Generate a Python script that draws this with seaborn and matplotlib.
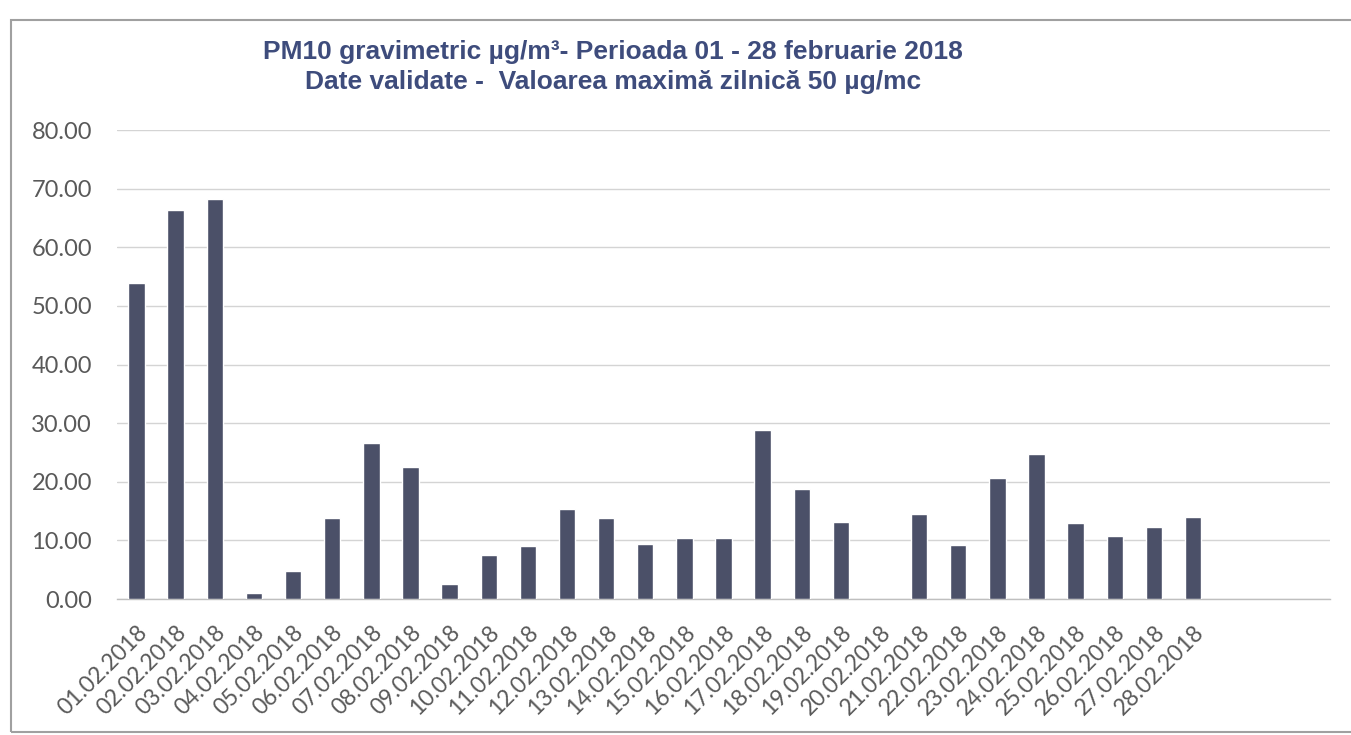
import numpy as np
import pandas as pd
import matplotlib
matplotlib.use("Agg")
import matplotlib.pyplot as plt
import seaborn as sns
from matplotlib.patches import Rectangle

days = [f"{d:02d}.02.2018" for d in range(1, 29)]
values = [53.9, 66.3, 68.3, 1.0, 4.7, 13.8, 26.6, 22.5, 2.6, 7.5,
          9.1, 15.4, 13.8, 9.3, 10.4, 10.4, 28.8, 18.8, 13.1, np.nan,
          14.5, 9.2, 20.7, 24.8, 12.9, 10.8, 12.3, 14.0]
y_ticks = [0, 10, 20, 30, 40, 50, 60, 70, 80]
title_lines = ["PM10 gravimetric µg/m³- Perioada 01 - 28 februarie 2018",
               "Date validate -  Valoarea maximă zilnică 50 µg/mc"]
n_slots = 31

df = pd.DataFrame({"day": days, "value": values})

sns.set_theme(style="white")
plt.rcParams["font.family"] = ["Lato", "DejaVu Sans"]

fig = plt.figure(figsize=(13.51, 7.35), dpi=100)
ax = fig.add_axes([117/1351, 1 - 599/735, (1330 - 117)/1351, (599 - 130)/735])

sns.barplot(data=df, x="day", y="value", order=days, color="#4b5068",
            saturation=1, width=0.42, errorbar=None, ax=ax, zorder=3)

ax.set_xlim(-0.5, n_slots - 0.5)
ax.set_ylim(0, 80)
ax.set_yticks(y_ticks)
ax.set_yticklabels([f"{v:.2f}" for v in y_ticks], fontsize=17, color="#595959")
ax.yaxis.grid(True, color="#d4d4d4", linewidth=1.0, zorder=0)
ax.set_axisbelow(True)
ax.set_xlabel("")
ax.set_ylabel("")

ax.set_xticks(range(len(days)))
ax.set_xticklabels(days, rotation=45, ha="right", rotation_mode="anchor",
                   fontsize=16.5, color="#595959")
ax.tick_params(axis="x", which="major", length=0, pad=16)
ax.set_xticks([i - 0.5 for i in range(n_slots + 1)], minor=True)
ax.tick_params(axis="x", which="minor", length=8, color="#c8c8c8", width=1)
ax.tick_params(axis="y", length=0, pad=18)

for s in ["top", "right", "left"]:
    ax.spines[s].set_visible(False)
ax.spines["bottom"].set_color("#bfbfbf")
ax.spines["bottom"].set_linewidth(1.0)

for txt, ybase in zip(title_lines, [59, 89]):
    fig.text(613/1351, 1 - ybase/735, txt, ha="center", va="baseline",
             fontsize=19, fontweight="bold", color="#3e4c7c",
             family=["Liberation Sans", "DejaVu Sans"])

fig.patches.append(Rectangle((11/1351, 1 - 732/735), 1.0, (732 - 20)/735,
                             transform=fig.transFigure, fill=False,
                             edgecolor="#a0a0a0", linewidth=1.5))

fig.savefig("out.png", dpi=100, facecolor="white")
